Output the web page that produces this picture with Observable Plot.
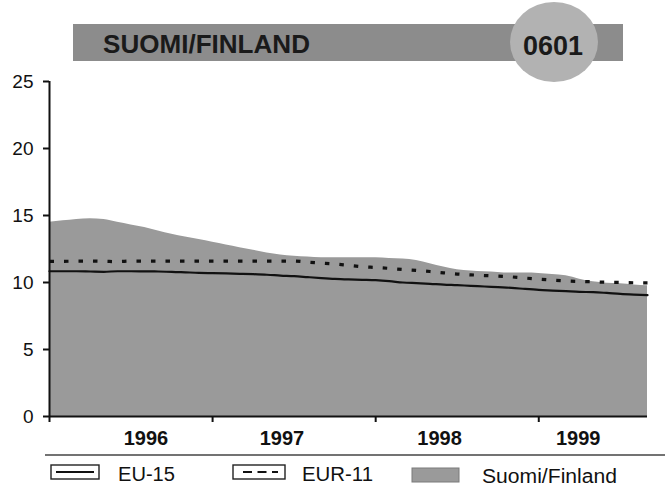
<!DOCTYPE html>
<html>
<head>
<meta charset="utf-8">
<script src="https://cdn.jsdelivr.net/npm/d3@7"></script>
<script src="https://cdn.jsdelivr.net/npm/@observablehq/plot@0.6"></script>
<style>
  html, body { margin: 0; padding: 0; background: #fff; }
  #wrap { position: relative; width: 665px; height: 492px; overflow: hidden; font-family: "Liberation Sans", Arial, Helvetica, sans-serif; }
  #chart { position: absolute; left: 0; top: 62px; z-index: 1; }
  #overlay { position: absolute; left: 0; top: 0; z-index: 2; pointer-events: none; }
</style>
</head>
<body>
<div id="wrap">
  <div id="chart"></div>
  <svg id="overlay" width="665" height="492"></svg>
</div>
<script>
// ---- data (months since Jan 1996) ----
const months = d3.range(0, 45);
const finlandValues = [14.5,14.6,14.7,14.75,14.7,14.5,14.3,14.1,13.85,13.6,13.4,13.2,13.0,12.8,12.6,12.4,12.2,12.05,11.95,11.9,11.85,11.85,11.85,11.85,11.85,11.8,11.75,11.65,11.4,11.15,10.95,10.85,10.8,10.75,10.7,10.7,10.67,10.6,10.5,10.25,10.05,9.95,9.9,9.82,9.75];
const eu15Values = [10.84,10.84,10.84,10.82,10.8,10.84,10.84,10.83,10.82,10.8,10.76,10.72,10.7,10.68,10.65,10.62,10.58,10.52,10.47,10.4,10.33,10.27,10.23,10.2,10.17,10.1,10.0,9.95,9.9,9.84,9.8,9.75,9.7,9.65,9.6,9.52,9.45,9.4,9.35,9.3,9.28,9.22,9.15,9.1,9.06];
const eur11Values = [11.58,11.58,11.6,11.6,11.58,11.56,11.6,11.6,11.6,11.6,11.6,11.6,11.6,11.6,11.6,11.6,11.6,11.6,11.6,11.52,11.45,11.38,11.28,11.18,11.12,11.05,10.97,10.9,10.82,10.72,10.63,10.57,10.52,10.48,10.42,10.33,10.25,10.18,10.12,10.08,10.05,10.02,10.0,9.98,9.97];
const yearLabels = ["1996", "1997", "1998", "1999"];
const yearStartTicks = [0, 12, 24, 36];
const yTicks = [0, 5, 10, 15, 20, 25];
const legendLabels = ["EU-15", "EUR-11", "Suomi/Finland"];
const titleText = "SUOMI/FINLAND";
const badgeText = "0601";

// layout-only: where the year labels sit along the month axis
const yearLabelPos = [7.1, 17.1, 28.7, 38.9];

const toRows = vals => months.map((m, i) => ({m, v: vals[i]}));
const finland = toRows(finlandValues);
const eu15 = toRows(eu15Values);
const eur11 = toRows(eur11Values);

const chart = Plot.plot({
  width: 665,
  height: 400,
  marginTop: 19,
  marginBottom: 46,
  marginLeft: 49,
  marginRight: 18,
  style: {background: "transparent", fontFamily: "'Liberation Sans', Arial, sans-serif", color: "#111", overflow: "visible"},
  x: {domain: [0, 44], axis: null},
  y: {domain: [0, 25], axis: null},
  marks: [
    Plot.areaY(finland, {x: "m", y: "v", fill: "#9a9a9a", curve: "monotone-x"}),
    Plot.lineY(eu15, {x: "m", y: "v", stroke: "#111", strokeWidth: 2.2, curve: "monotone-x"}),
    Plot.lineY(eur11, {x: "m", y: "v", stroke: "#111", strokeWidth: 3.2, strokeDasharray: "4.5,10", strokeLinecap: "butt", curve: "monotone-x"}),
    Plot.ruleX([0], {stroke: "#111", strokeWidth: 2}),
    Plot.ruleY([0], {stroke: "#111", strokeWidth: 2}),
    Plot.axisY({ticks: yTicks, label: null, tickSize: 6, tickPadding: 10, fontSize: 19, strokeWidth: 2, tickFormat: d => String(d)}),
    Plot.axisX({ticks: yearStartTicks, label: null, tickSize: 6, strokeWidth: 2, tickFormat: () => ""}),
    Plot.axisX({ticks: yearLabelPos, label: null, tickSize: 0, tickPadding: 14, fontSize: 20, fontWeight: "bold",
      tickFormat: d => yearLabels[yearLabelPos.indexOf(d)]})
  ]
});
document.getElementById("chart").appendChild(chart);

// ---- header & legend (outside the plot area) ----
const ov = d3.select("#overlay");
const ff = "'Liberation Sans', Arial, sans-serif";
ov.append("rect").attr("x", 73).attr("y", 24).attr("width", 550).attr("height", 37).attr("fill", "#8c8c8c");
ov.append("ellipse").attr("cx", 554).attr("cy", 42).attr("rx", 44).attr("ry", 40).attr("fill", "#b2b2b2");
ov.append("text").attr("x", 103).attr("y", 53).attr("font-family", ff).attr("font-weight", "bold")
  .attr("font-size", 26).attr("fill", "#1a1a1a").attr("textLength", 207).attr("lengthAdjust", "spacingAndGlyphs").text(titleText);
ov.append("text").attr("x", 523).attr("y", 55).attr("font-family", ff).attr("font-weight", "bold")
  .attr("font-size", 28).attr("fill", "#1a1a1a").attr("textLength", 60).attr("lengthAdjust", "spacingAndGlyphs").text(badgeText);

// separator rule
ov.append("line").attr("x1", 45).attr("x2", 665).attr("y1", 455).attr("y2", 455).attr("stroke", "#444").attr("stroke-width", 1.6);

// legend: EU-15
ov.append("rect").attr("x", 51).attr("y", 465).attr("width", 48).attr("height", 14).attr("fill", "#fff").attr("stroke", "#222").attr("stroke-width", 1.4);
ov.append("line").attr("x1", 56).attr("x2", 94).attr("y1", 472).attr("y2", 472).attr("stroke", "#111").attr("stroke-width", 2);
ov.append("text").attr("x", 118).attr("y", 481).attr("font-family", ff).attr("font-size", 20).attr("fill", "#111")
  .attr("textLength", 57).attr("lengthAdjust", "spacingAndGlyphs").text(legendLabels[0]);
// legend: EUR-11
ov.append("rect").attr("x", 233).attr("y", 465).attr("width", 52).attr("height", 14).attr("fill", "#fff").attr("stroke", "#222").attr("stroke-width", 1.4);
ov.append("line").attr("x1", 243).attr("x2", 278).attr("y1", 472).attr("y2", 472).attr("stroke", "#111").attr("stroke-width", 1.8).attr("stroke-dasharray", "9,5.5");
ov.append("text").attr("x", 302).attr("y", 481).attr("font-family", ff).attr("font-size", 20).attr("fill", "#111")
  .attr("textLength", 71).attr("lengthAdjust", "spacingAndGlyphs").text(legendLabels[1]);
// legend: Suomi/Finland
ov.append("rect").attr("x", 412).attr("y", 468).attr("width", 47).attr("height", 14).attr("fill", "#9a9a9a").attr("stroke", "#7a7a7a").attr("stroke-width", 1);
ov.append("text").attr("x", 482).attr("y", 483).attr("font-family", ff).attr("font-size", 20).attr("fill", "#111")
  .attr("textLength", 135).attr("lengthAdjust", "spacingAndGlyphs").text(legendLabels[2]);
</script>
</body>
</html>
